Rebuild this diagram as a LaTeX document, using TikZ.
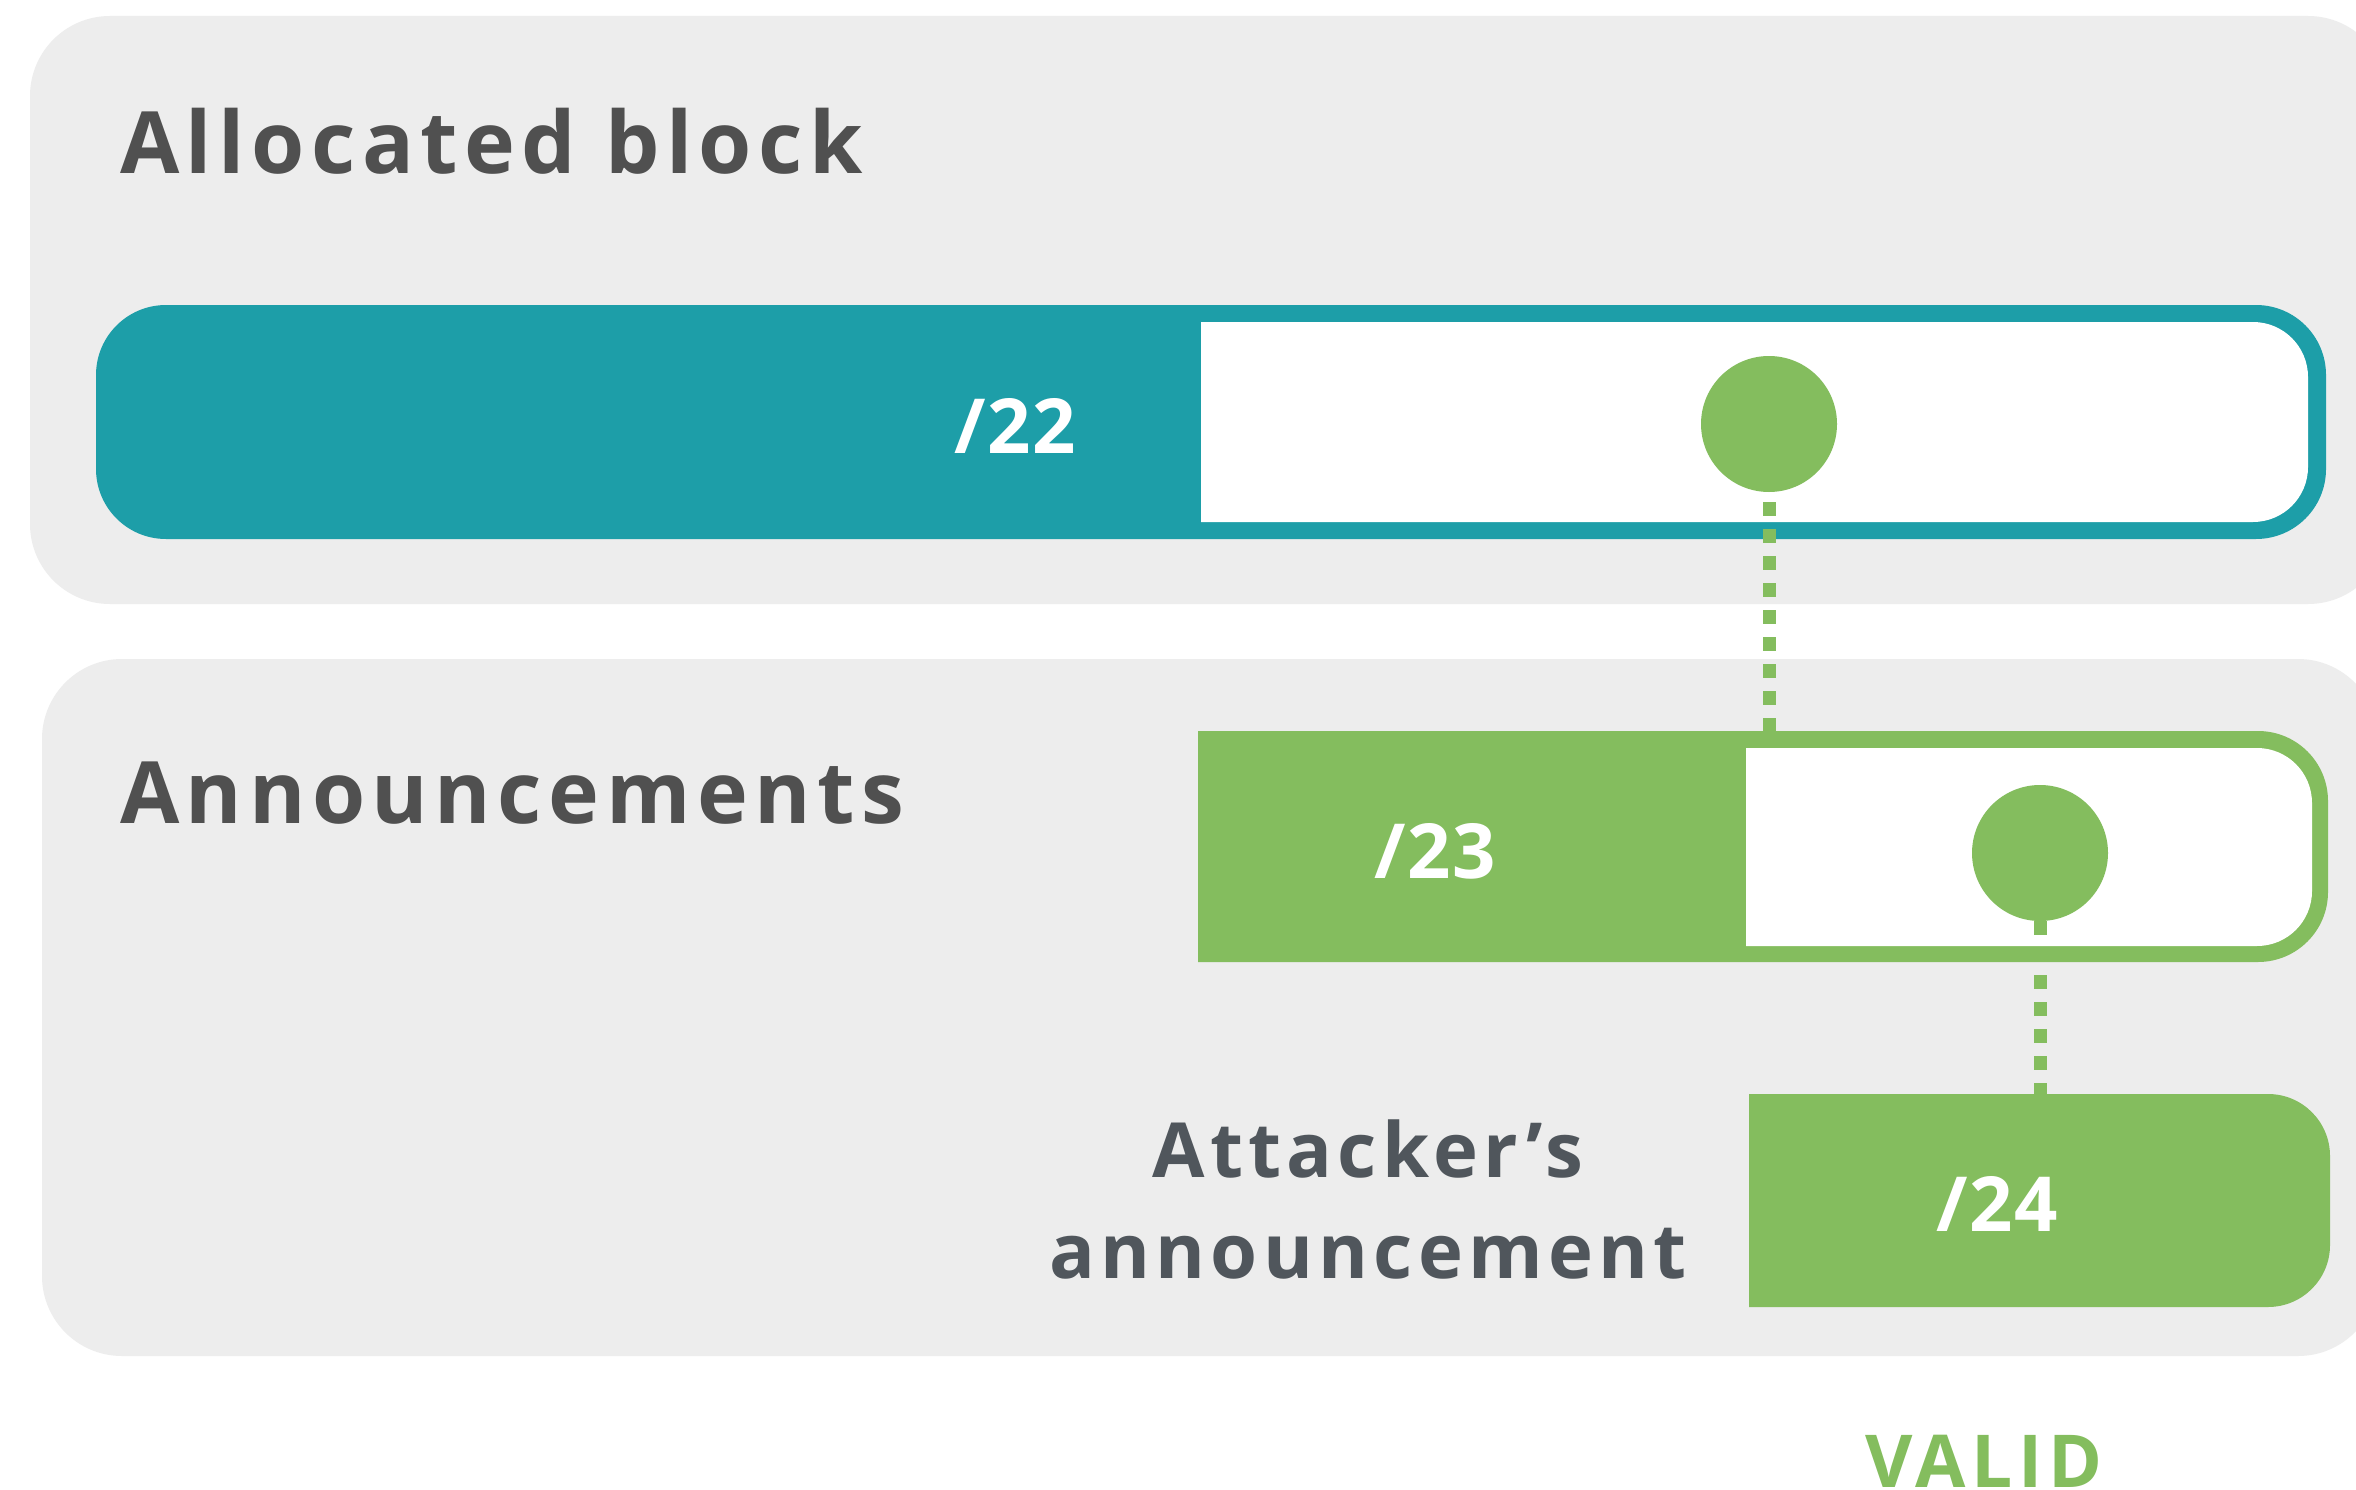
\documentclass[tikz,border=0pt]{standalone}
\usepackage{fontspec}
\setmainfont{Open Sans}
\newfontfamily\ttlfont[LetterSpace=7.6]{Open Sans}
\newfontfamily\attfont[LetterSpace=7]{Open Sans}
\newfontfamily\lblfont[LetterSpace=2]{Open Sans}
\definecolor{panelgray}{HTML}{EDEDED}
\definecolor{tealbar}{HTML}{1D9EA8}
\definecolor{greenbar}{HTML}{84BD5E}
\definecolor{titlegray}{HTML}{505050}
\definecolor{attgray}{HTML}{50565C}
\tikzset{
  panel/.style={fill=panelgray, draw=none, rounded corners=80pt},
  titletext/.style={anchor=base west, inner sep=0pt, text=titlegray, font=\ttlfont\bfseries\fontsize{86}{100}\selectfont},
  barlabel/.style={inner sep=0pt, text=white, font=\lblfont\bfseries\fontsize{76}{90}\selectfont},
  dotmark/.style={circle, fill=greenbar, draw=none, minimum size=136pt, inner sep=0pt},
  dotline/.style={draw=greenbar, line width=13pt, dash pattern=on 14pt off 13pt},
}
\begin{document}
\begin{tikzpicture}[x=1pt,y=-1pt]
\useasboundingbox (0,0) rectangle (2356,1490);
\fill[white] (0,0) rectangle (2356,1490);
% panels
\path[panel] (30,16) rectangle (2388,604);
\path[panel] (42,659) rectangle (2378,1356);
% titles
\node[titletext] (tAlloc) at (120,174) {Allocated block};
\node[titletext] (tAnn) at (120,823) {Announcements};
% /22 bar
\fill[tealbar, rounded corners=70pt] (96,305) rectangle (2326,539);
\fill[white] (1201,322) -- (2253,322) arc[start angle=90, end angle=0, radius=55pt] -- (2308,467) arc[start angle=0, end angle=-90, radius=55pt] -- (1201,522) -- cycle;
\node[barlabel] (l22) at (1015,426) {/22};
\node[dotmark] (c1) at (1769,424) {};
% /23 bar
\fill[greenbar] (1198,731) -- (2258,731) arc[start angle=90, end angle=0, radius=70pt] -- (2328,892) arc[start angle=0, end angle=-90, radius=70pt] -- (1198,962) -- cycle;
\fill[white] (1746,748) -- (2257,748) arc[start angle=90, end angle=0, radius=55pt] -- (2312,891) arc[start angle=0, end angle=-90, radius=55pt] -- (1746,946) -- cycle;
\coordinate (bar23top) at (1769,731);
\node[barlabel] (l23) at (1435,851) {/23};
\node[dotmark] (c2) at (2040,853) {};
% /24 box
\fill[greenbar] (1749,1094) -- (2268,1094) arc[start angle=90, end angle=0, radius=62pt] -- (2330,1245) arc[start angle=0, end angle=-90, radius=62pt] -- (1749,1307) -- cycle;
\coordinate (bar24top) at (2040,1094);
\node[barlabel] (l24) at (1997,1204) {/24};
% connectors
\draw[dotline] ([yshift=-10pt]c1.south) -- (bar23top);
\draw[dotline] (c2.south) -- (bar24top);
% attacker text
\node[anchor=base, inner sep=0pt, text=attgray, align=center, font=\attfont\bfseries\fontsize{76}{101}\selectfont] (att) at (1368,1278) {Attacker’s\\announcement};
% VALID
\node[anchor=base, inner sep=0pt, text=greenbar, font=\ttlfont\bfseries\fontsize{73}{80}\selectfont] (valid) at (1984,1487) {VALID};
\end{tikzpicture}
\end{document}
